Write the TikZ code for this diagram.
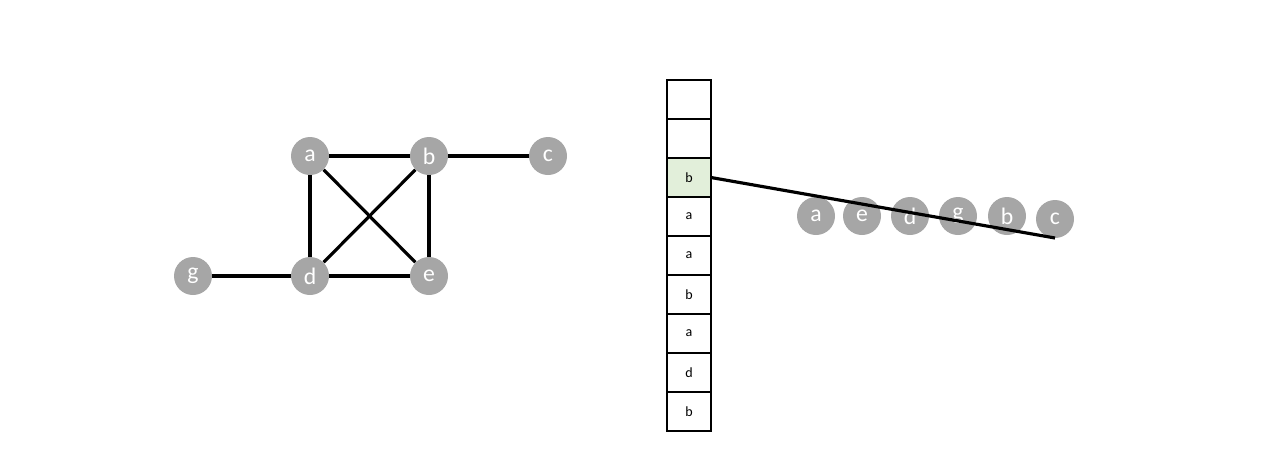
\documentclass[tikz,border=0pt]{standalone}
\usepackage{fontspec}
\setmainfont{Carlito}
\usepackage{xcolor}
\usetikzlibrary{positioning}
\definecolor{vgray}{HTML}{A6A6A6}
\definecolor{topgreen}{HTML}{E2EFDA}
\tikzset{
  vert/.style={circle, fill=vgray, minimum size=0.76cm, inner sep=0pt,
               text=white, font=\fontsize{13.5}{15}\selectfont},
  cell/.style={draw, line width=1.1pt, minimum width=0.88cm, minimum height=0.78cm,
               inner sep=0pt, outer sep=0pt, font=\fontsize{8}{9}\selectfont},
  edge/.style={line width=1.8pt}
}
\begin{document}
\begin{tikzpicture}[node distance=0pt]
\useasboundingbox (0,0) rectangle (25.6,9.08);
% graph
\node[vert] (a) at (6.2,5.96) {a};
\node[vert] (b) at (8.58,5.96) {b};
\node[vert] (c) at (10.96,5.96) {c};
\node[vert] (g) at (3.86,3.56) {g};
\node[vert] (d) at (6.2,3.56) {d};
\node[vert] (e) at (8.58,3.56) {e};
\draw[edge] (a) -- (b);
\draw[edge] (b) -- (c);
\draw[edge] (a) -- (d);
\draw[edge] (b) -- (e);
\draw[edge] (a) -- (e);
\draw[edge] (b) -- (d);
\draw[edge] (g) -- (d);
\draw[edge] (d) -- (e);
% stack
\node[cell] (s1) at (13.78,7.09) {};
\node[cell, below=of s1] (s2) {};
\node[cell, below=of s2, fill=topgreen] (s3) {b};
\node[cell, below=of s3] (s4) {a};
\node[cell, below=of s4] (s5) {a};
\node[cell, below=of s5] (s6) {b};
\node[cell, below=of s6] (s7) {a};
\node[cell, below=of s7] (s8) {d};
\node[cell, below=of s8] (s9) {b};
% path
\node[vert] (pa) at (16.32,4.76) {a};
\node[vert] (pe) at (17.24,4.76) {e};
\node[vert] (pd) at (18.2,4.76) {d};
\node[vert] (pg) at (19.16,4.76) {g};
\node[vert] (pb) at (20.14,4.76) {b};
\node[vert] (pc) at (21.1,4.7) {c};
\coordinate (tail) at (21.1,4.32);
\draw[edge] (s3.east) -- (tail);
\end{tikzpicture}
\end{document}
